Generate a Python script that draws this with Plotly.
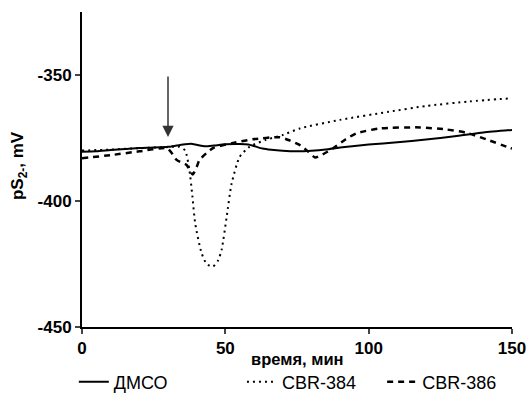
import plotly.graph_objects as go

# ДМСО (solid)
t_dmso = [0, 5, 10, 15, 20, 25, 30, 33, 36, 38, 40, 43, 46, 50, 55, 58, 60, 63, 66, 70,
          75, 80, 85, 90, 100, 110, 120, 130, 140, 150]
v_dmso = [-380.5, -380.3, -379.8, -379.4, -379.0, -378.8, -378.5, -378.0, -377.5, -377.3,
          -377.7, -378.3, -378.0, -377.5, -377.4, -377.6, -378.2, -379.2, -379.7, -380.1,
          -380.3, -380.1, -379.6, -378.8, -377.6, -376.7, -375.6, -374.3, -372.8, -371.8]

# CBR-384 (dotted)
t_384 = [0, 10, 20, 30, 34, 36, 37.5, 38.5, 39.5, 41.7, 43.5, 45.7, 47.5, 48.7, 50.5, 52.2,
         55, 58.5, 64, 70, 76, 90, 107, 120, 135, 150]
v_384 = [-380.0, -379.6, -379.0, -378.6, -378.5, -380.0, -388.0, -398.0, -409.0, -420.6,
         -425.0, -426.0, -423.5, -419.4, -406.0, -393.0, -382.5, -378.4, -375.8, -373.8,
         -371.2, -367.8, -364.6, -362.3, -360.5, -359.2]

# CBR-386 (dashed)
t_386 = [0, 10, 20, 29.5, 31, 33, 36.5, 38.6, 40, 41, 45.7, 52.7, 59.6, 69, 72, 76, 79, 81.3,
         84, 87.7, 92, 95.8, 104, 118, 127, 134, 141, 148.7, 150]
v_386 = [-383.0, -381.8, -380.3, -379.0, -380.5, -383.7, -385.7, -389.5, -386.5, -383.7,
         -379.0, -377.0, -375.5, -374.7, -375.8, -377.8, -380.5, -382.7, -381.5, -379.0,
         -375.5, -373.1, -371.2, -370.8, -371.6, -372.9, -375.5, -378.7, -379.2]

x_ticks = [0, 50, 100, 150]
y_ticks = [-350, -400, -450]

FONT = "Liberation Sans, Arial"

fig = go.Figure()
fig.add_trace(go.Scatter(x=t_dmso, y=v_dmso, mode="lines", name="ДМСО",
                         line=dict(color="black", width=2, shape="spline", smoothing=0.6),
                         legend="legend"))
fig.add_trace(go.Scatter(x=t_384, y=v_384, mode="lines", name="CBR-384",
                         line=dict(color="black", width=2, dash="2px,4px", shape="spline", smoothing=0.6),
                         legend="legend2"))
fig.add_trace(go.Scatter(x=t_386, y=v_386, mode="lines", name="CBR-386",
                         line=dict(color="black", width=2.5, dash="6px,5px", shape="spline", smoothing=0.6),
                         legend="legend3"))

# arrow marking addition time
fig.add_annotation(x=30, y=-374.6, ax=30, ay=-350, xref="x", yref="y", axref="x", ayref="y",
                   text="", showarrow=True, arrowhead=2, arrowsize=1.5, arrowwidth=1.5,
                   arrowcolor="#333333")

# axis titles
fig.add_annotation(x=0.5, y=-0.102, xref="paper", yref="paper", text="<b>время, мин</b>",
                   showarrow=False, xanchor="center", yanchor="middle",
                   font=dict(family=FONT, size=16.5, color="black"))
fig.add_annotation(x=-0.1465, y=0.511, xref="paper", yref="paper",
                   text="<b>pS<sub>2-</sub>, mV</b>", textangle=-90,
                   showarrow=False, xanchor="center", yanchor="middle",
                   font=dict(family=FONT, size=17, color="black"))

leg = dict(orientation="h", yanchor="middle", y=-0.175, xanchor="left",
           font=dict(family=FONT, size=18, color="black"),
           bgcolor="rgba(0,0,0,0)")
fig.update_layout(
    width=526, height=407,
    margin=dict(l=82, r=14, t=12, b=80, autoexpand=False),
    plot_bgcolor="white", paper_bgcolor="white",
    font=dict(family=FONT, color="black"),
    showlegend=True,
    legend=dict(leg, x=-0.019),
    legend2=dict(leg, x=0.372),
    legend3=dict(leg, x=0.698),
    xaxis=dict(range=[0, 150], tickvals=x_ticks, ticktext=[str(v) for v in x_ticks],
               ticks="outside", ticklen=5, automargin=False, ticklabeloverflow="allow",
               tickwidth=2, showline=True, linecolor="black", linewidth=2, showgrid=False,
               zeroline=False, tickfont=dict(size=17, family=FONT, weight="bold")),
    yaxis=dict(range=[-450, -325], tickvals=y_ticks, ticktext=[str(v) for v in y_ticks],
               ticks="outside", ticklen=5, automargin=False, ticklabeloverflow="allow",
               tickwidth=2, showline=True, linecolor="black", linewidth=2, showgrid=False,
               zeroline=False, tickfont=dict(size=17, family=FONT, weight="bold")),
)

# page margin would shift the figure by 8px
fig.write_html("out.html", config={"displayModeBar": False},
               post_script="document.body.style.margin='0';")
